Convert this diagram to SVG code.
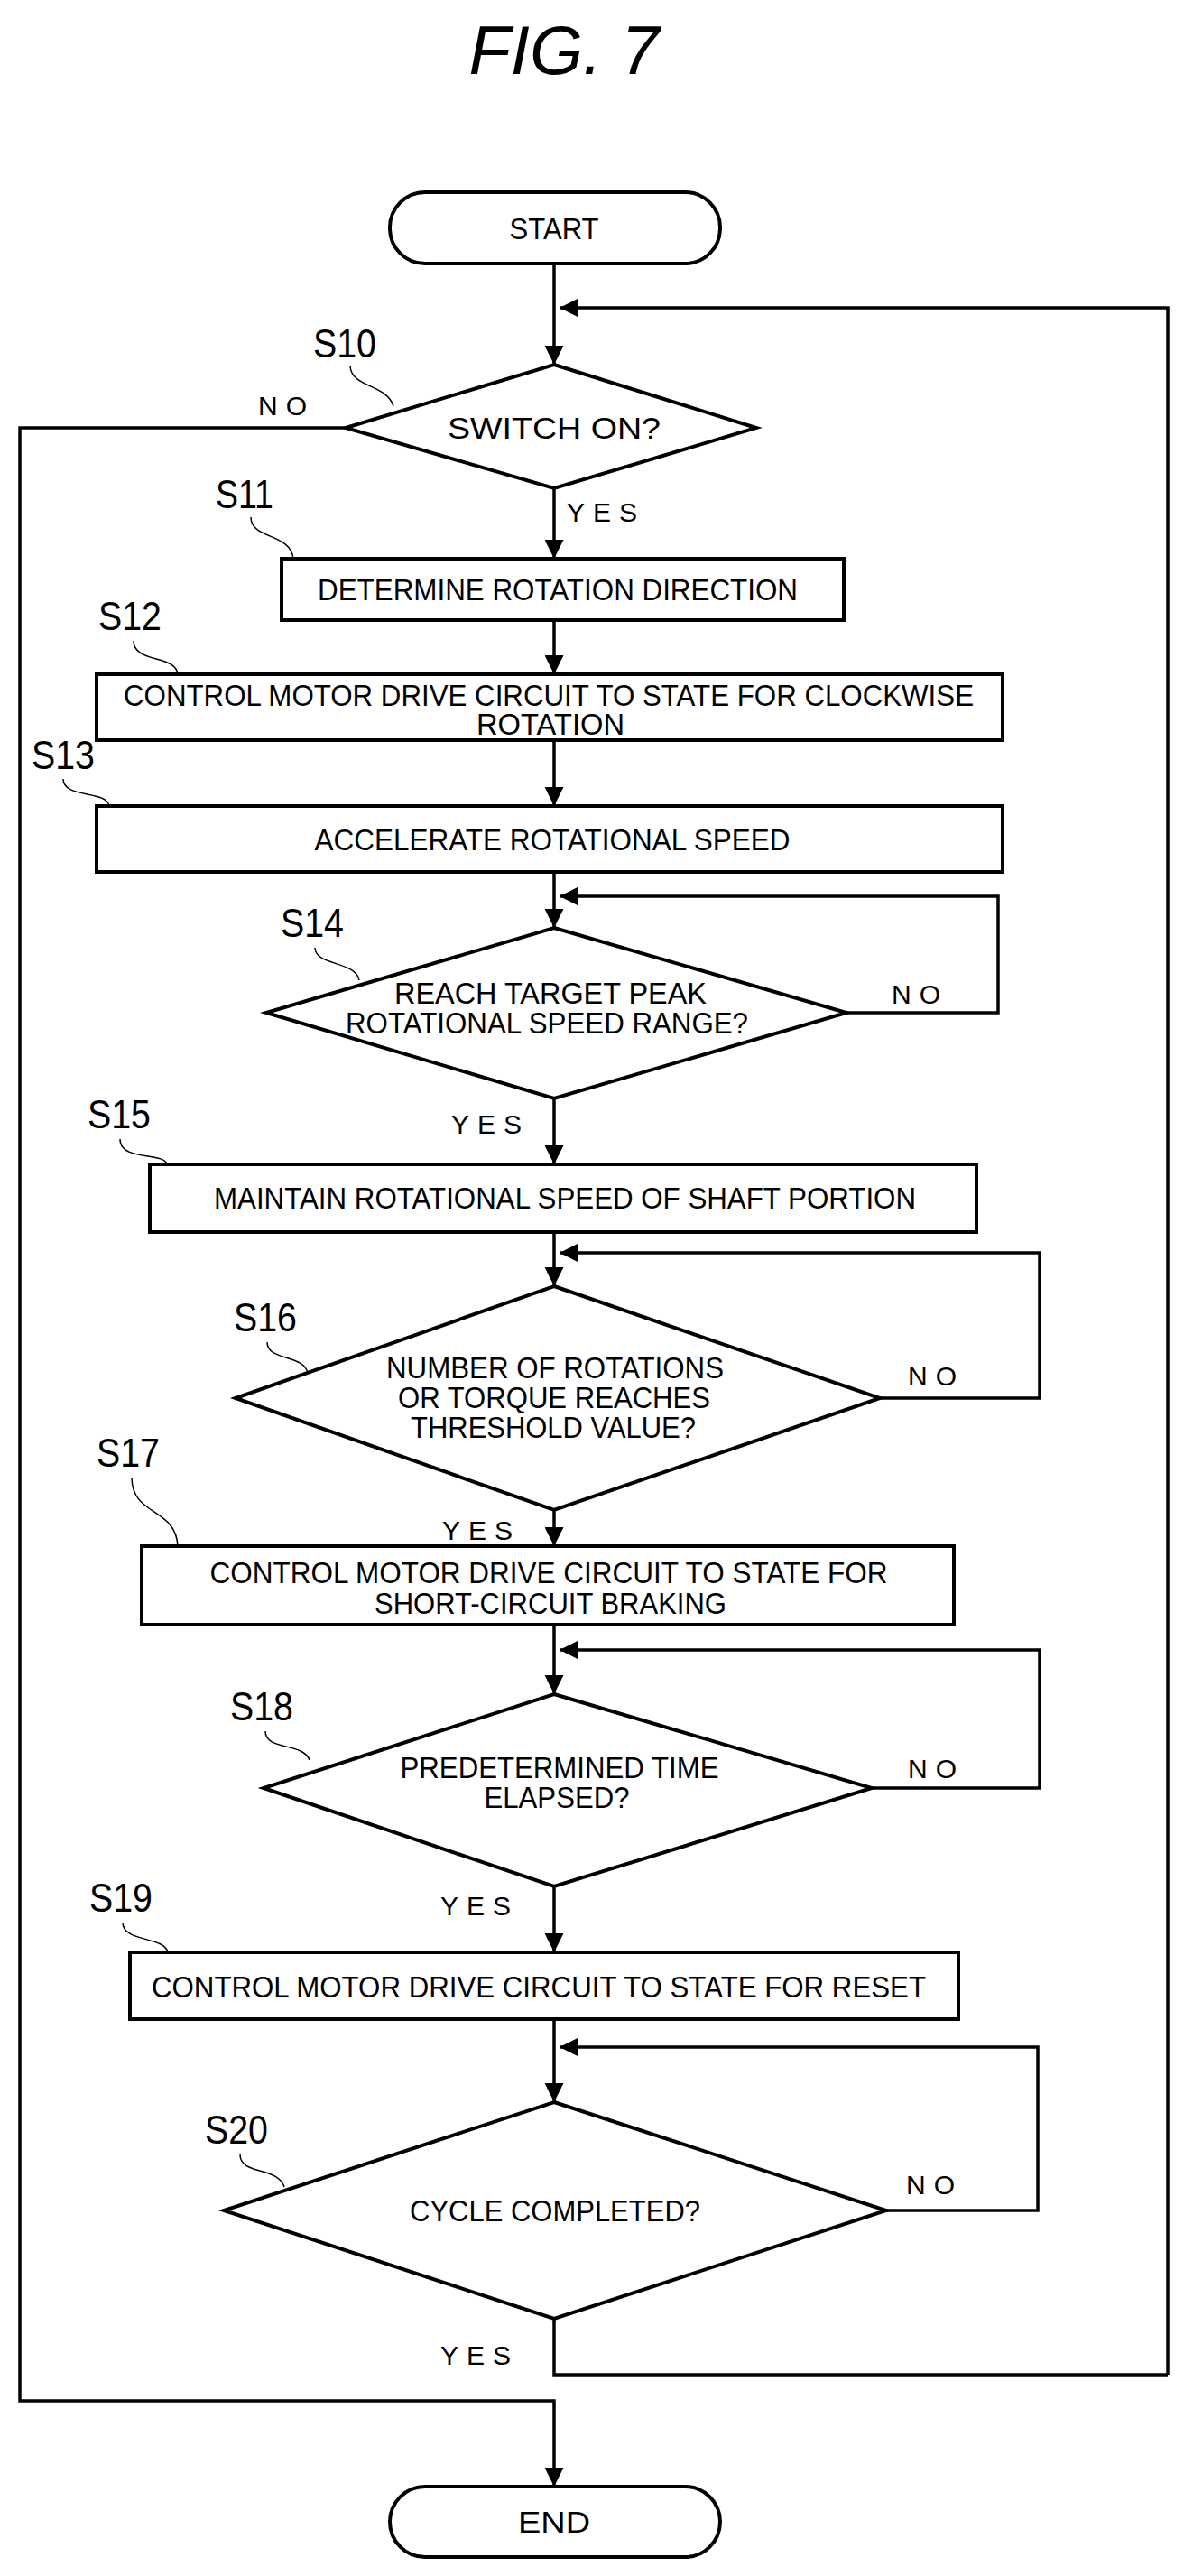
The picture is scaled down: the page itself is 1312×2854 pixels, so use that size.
<svg xmlns="http://www.w3.org/2000/svg" width="1312" height="2854" viewBox="0 0 1312 2854">
<style>
.s{fill:#fff;stroke:#000;stroke-width:4}
.t{font-family:"Liberation Sans",Arial,sans-serif;font-size:34px;text-anchor:middle;fill:#000}
.l{font-family:"Liberation Sans",Arial,sans-serif;font-size:44px;text-anchor:middle;fill:#000}
.y{font-family:"Liberation Sans",Arial,sans-serif;font-size:30px;letter-spacing:9px;fill:#000}
.c{fill:none;stroke:#000;stroke-width:3.5}
.ld{fill:none;stroke:#000;stroke-width:1.5}
</style>
<defs><marker id="b" viewBox="0 0 10 10" refX="10" refY="5" markerWidth="6" markerHeight="6" orient="auto"><path d="M0,0 L10,5 L0,10 Z" fill="#000"/></marker></defs>
<text x="625" y="82" font-family="Liberation Sans,Arial,sans-serif" font-size="76" font-style="italic" text-anchor="middle">FIG. 7</text>
<g id="connectors" class="c">
<path d="M614,292 V404" marker-end="url(#b)"/>
<path d="M1294,2631 V341 H620" marker-end="url(#b)"/>
<path d="M614,541 V619" marker-end="url(#b)"/>
<path d="M614,687 V747" marker-end="url(#b)"/>
<path d="M614,820 V893" marker-end="url(#b)"/>
<path d="M614,966 V1028" marker-end="url(#b)"/>
<path d="M938,1122 H1106 V993 H620" marker-end="url(#b)"/>
<path d="M614,1217 V1290" marker-end="url(#b)"/>
<path d="M614,1365 V1425" marker-end="url(#b)"/>
<path d="M975,1549 H1152 V1388 H620" marker-end="url(#b)"/>
<path d="M614,1673 V1713" marker-end="url(#b)"/>
<path d="M614,1800 V1877" marker-end="url(#b)"/>
<path d="M966,1981 H1152 V1828 H620" marker-end="url(#b)"/>
<path d="M614,2090 V2163" marker-end="url(#b)"/>
<path d="M614,2237 V2329" marker-end="url(#b)"/>
<path d="M982,2449 H1150 V2268 H620" marker-end="url(#b)"/>
<path d="M614,2569 V2631 H1294"/>
<path d="M383,474 H22 V2660 H614 V2755" marker-end="url(#b)"/>
</g>
<g id="start"><rect class="s" x="432" y="213" width="366" height="79" rx="39"/><text class="t" x="614" y="265" textLength="99" lengthAdjust="spacingAndGlyphs">START</text></g>
<g id="S10"><polygon class="s" points="614,404 838,474 614,541 383,474"/><text class="t" x="614" y="486" textLength="236" lengthAdjust="spacingAndGlyphs">SWITCH ON?</text>
<text class="l" x="382" y="396" textLength="70" lengthAdjust="spacingAndGlyphs">S10</text><path class="ld" d="M388,406 C390,430 428,425 436,450"/>
<text class="y" x="286" y="460">NO</text><text class="y" x="628" y="578">YES</text></g>
<g id="S11"><rect class="s" x="312" y="619" width="623" height="68"/><text class="t" x="618" y="665" textLength="532" lengthAdjust="spacingAndGlyphs">DETERMINE ROTATION DIRECTION</text>
<text class="l" x="271" y="563" textLength="64" lengthAdjust="spacingAndGlyphs">S11</text><path class="ld" d="M278,573 C278,598 322,590 325,619"/></g>
<g id="S12"><rect class="s" x="107" y="747" width="1004" height="73"/><text class="t" x="608" y="782" textLength="942" lengthAdjust="spacingAndGlyphs">CONTROL MOTOR DRIVE CIRCUIT TO STATE FOR CLOCKWISE</text><text class="t" x="610" y="814" textLength="164" lengthAdjust="spacingAndGlyphs">ROTATION</text>
<text class="l" x="144" y="698" textLength="70" lengthAdjust="spacingAndGlyphs">S12</text><path class="ld" d="M148,710 C148,735 195,725 197,747"/></g>
<g id="S13"><rect class="s" x="107" y="893" width="1004" height="73"/><text class="t" x="612" y="942" textLength="527" lengthAdjust="spacingAndGlyphs">ACCELERATE ROTATIONAL SPEED</text>
<text class="l" x="70" y="852" textLength="70" lengthAdjust="spacingAndGlyphs">S13</text><path class="ld" d="M70,863 C70,885 118,875 121,893"/></g>
<g id="S14"><polygon class="s" points="614,1028 938,1122 614,1217 295,1122"/><text class="t" x="610" y="1112" textLength="346" lengthAdjust="spacingAndGlyphs">REACH TARGET PEAK</text><text class="t" x="606" y="1145" textLength="446" lengthAdjust="spacingAndGlyphs">ROTATIONAL SPEED RANGE?</text>
<text class="l" x="346" y="1038" textLength="70" lengthAdjust="spacingAndGlyphs">S14</text><path class="ld" d="M349,1050 C349,1070 395,1065 398,1086"/>
<text class="y" x="988" y="1112">NO</text><text class="y" x="500" y="1256">YES</text></g>
<g id="S15"><rect class="s" x="166" y="1290" width="916" height="75"/><text class="t" x="626" y="1339" textLength="778" lengthAdjust="spacingAndGlyphs">MAINTAIN ROTATIONAL SPEED OF SHAFT PORTION</text>
<text class="l" x="132" y="1250" textLength="70" lengthAdjust="spacingAndGlyphs">S15</text><path class="ld" d="M133,1262 C133,1287 182,1276 185,1290"/></g>
<g id="S16"><polygon class="s" points="614,1425 975,1549 614,1673 261,1549"/><text class="t" x="615" y="1527" textLength="374" lengthAdjust="spacingAndGlyphs">NUMBER OF ROTATIONS</text><text class="t" x="614" y="1560" textLength="346" lengthAdjust="spacingAndGlyphs">OR TORQUE REACHES</text><text class="t" x="613" y="1593" textLength="316" lengthAdjust="spacingAndGlyphs">THRESHOLD VALUE?</text>
<text class="l" x="294" y="1475" textLength="70" lengthAdjust="spacingAndGlyphs">S16</text><path class="ld" d="M296,1487 C296,1508 336,1500 341,1521"/>
<text class="y" x="1006" y="1535">NO</text><text class="y" x="490" y="1706">YES</text></g>
<g id="S17"><rect class="s" x="157" y="1713" width="900" height="87"/><text class="t" x="608" y="1754" textLength="751" lengthAdjust="spacingAndGlyphs">CONTROL MOTOR DRIVE CIRCUIT TO STATE FOR</text><text class="t" x="610" y="1788" textLength="390" lengthAdjust="spacingAndGlyphs">SHORT-CIRCUIT BRAKING</text>
<text class="l" x="142" y="1625" textLength="70" lengthAdjust="spacingAndGlyphs">S17</text><path class="ld" d="M146,1637 C146,1680 195,1670 197,1713"/></g>
<g id="S18"><polygon class="s" points="614,1877 966,1981 614,2090 292,1981"/><text class="t" x="620" y="1970" textLength="353" lengthAdjust="spacingAndGlyphs">PREDETERMINED TIME</text><text class="t" x="617" y="2003" textLength="161" lengthAdjust="spacingAndGlyphs">ELAPSED?</text>
<text class="l" x="290" y="1906" textLength="70" lengthAdjust="spacingAndGlyphs">S18</text><path class="ld" d="M294,1918 C294,1940 336,1930 343,1950"/>
<text class="y" x="1006" y="1970">NO</text><text class="y" x="488" y="2122">YES</text></g>
<g id="S19"><rect class="s" x="144" y="2163" width="918" height="74"/><text class="t" x="597" y="2213" textLength="858" lengthAdjust="spacingAndGlyphs">CONTROL MOTOR DRIVE CIRCUIT TO STATE FOR RESET</text>
<text class="l" x="134" y="2118" textLength="70" lengthAdjust="spacingAndGlyphs">S19</text><path class="ld" d="M136,2130 C136,2152 182,2145 186,2163"/></g>
<g id="S20"><polygon class="s" points="614,2329 982,2449 614,2569 248,2449"/><text class="t" x="615" y="2461" textLength="322" lengthAdjust="spacingAndGlyphs">CYCLE COMPLETED?</text>
<text class="l" x="262" y="2375" textLength="70" lengthAdjust="spacingAndGlyphs">S20</text><path class="ld" d="M266,2387 C266,2410 308,2400 315,2423"/>
<text class="y" x="1004" y="2431">NO</text><text class="y" x="488" y="2620">YES</text></g>
<g id="end"><rect class="s" x="432" y="2755" width="366" height="78" rx="39"/><text class="t" x="614" y="2806" textLength="80" lengthAdjust="spacingAndGlyphs">END</text></g>
</svg>
